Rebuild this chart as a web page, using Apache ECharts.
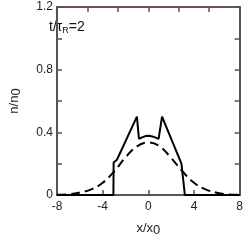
<!DOCTYPE html>
<html><head><meta charset="utf-8">
<script src="https://cdn.jsdelivr.net/npm/echarts@6/dist/echarts.min.js"></script>
<style>html,body{margin:0;padding:0;background:#fff}#c{width:246px;height:242px}</style>
</head><body><div id="c"></div>
<script>
// Solid profile n/n0 at t/tauR = 2
const solidX = [-8, -3.06, -3.04, -2.75, -1.0, -0.82, -0.55, -0.25, 0.05, 0.35, 0.65, 0.9, 1.2, 2.9, 3.2, 8];
const solidY = [0, 0, 0.207, 0.225, 0.50, 0.358, 0.368, 0.376, 0.378, 0.374, 0.366, 0.358, 0.50, 0.20, 0, 0];
// Dashed profile
const dashX = [-8, -7, -6, -5, -4, -3, -2, -1, 0, 1, 2, 3, 4, 5, 6, 7, 8];
const dashY = [0.001, 0.004, 0.016, 0.036, 0.078, 0.15, 0.24, 0.31, 0.335, 0.31, 0.236, 0.15, 0.078, 0.036, 0.015, 0.004, 0.001];
const xTicks = [-8, -4, 0, 4, 8];
const yTicks = [0, 0.4, 0.8, 1.2];

const zip = (a, b) => a.map((v, i) => [v, b[i]]);
const font = 'Liberation Sans';
const chart = echarts.init(document.getElementById('c'));
chart.setOption({
  animation: false,
  grid: {left: 41, right: 5, top: 7, bottom: 36},
  xAxis: [{
    type: 'value', min: -8, max: 8, interval: 4, position: 'bottom',
    axisLine: {onZero: false, lineStyle: {color: '#2a1a1a', width: 1.5}},
    axisTick: {inside: true, length: 5, lineStyle: {color: '#4d5757', width: 1.5}},
    axisLabel: {color: '#222', fontSize: 12, fontFamily: font, margin: 6,
      formatter: v => xTicks.includes(v) ? String(v) : ''},
    splitLine: {show: false},
    name: 'x/x{s|0}', nameLocation: 'middle', nameGap: 25,
    nameTextStyle: {color: '#222', fontSize: 13, fontFamily: font,
      rich: {s: {fontSize: 13, fontFamily: font, color: '#222', padding: [4, 0, 0, 0]}}}
  }, {
    type: 'value', min: -8, max: 8, interval: 8 / 3, position: 'top',
    axisLine: {onZero: false, lineStyle: {color: '#3a1a1a', width: 1.5}},
    axisTick: {inside: true, length: 5, lineStyle: {color: '#4d5757', width: 1.5}},
    axisLabel: {show: false}, splitLine: {show: false}
  }],
  yAxis: [{
    type: 'value', min: 0, max: 1.2, interval: 0.2, position: 'left',
    axisLine: {onZero: false, lineStyle: {color: '#4d5757', width: 2}},
    axisTick: {inside: true, length: 5, lineStyle: {color: '#4d5757', width: 1.5}},
    axisLabel: {color: '#222', fontSize: 12, fontFamily: font, margin: 4,
      formatter: v => yTicks.some(t => Math.abs(t - v) < 1e-6) ? String(Math.round(v * 10) / 10) : ''},
    splitLine: {show: false},
    name: 'n/n{s|0}', nameLocation: 'middle', nameGap: 34,
    nameTextStyle: {color: '#222', fontSize: 13, fontFamily: font,
      rich: {s: {fontSize: 13, fontFamily: font, color: '#222', padding: [4, 0, 0, 0]}}}
  }, {
    type: 'value', min: 0, max: 1.2, interval: 0.2, position: 'right',
    axisLine: {onZero: false, lineStyle: {color: '#4d5757', width: 2}},
    axisTick: {inside: true, length: 5, lineStyle: {color: '#4d5757', width: 1.5}},
    axisLabel: {show: false}, splitLine: {show: false}
  }],
  series: [{
    type: 'line', data: zip(dashX, dashY), smooth: 0.4, symbol: 'none',
    lineStyle: {color: '#000', width: 2, type: [9, 5]}
  }, {
    type: 'line', data: zip(solidX, solidY), symbol: 'none',
    lineStyle: {color: '#000', width: 2}
  }],
  graphic: [{
    type: 'text', left: 49, top: 20,
    style: {text: 't/τ{s|R}=2', fill: '#111', fontSize: 14, fontFamily: font,
      rich: {s: {fontSize: 9, fontFamily: font, fill: '#111', padding: [7, 0, 0, 0]}}}
  }]
});
</script></body></html>
